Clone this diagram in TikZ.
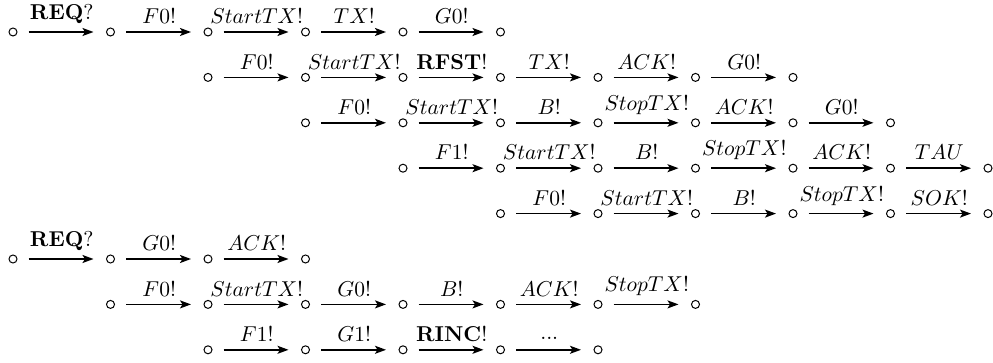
\documentclass[tikz,border=0pt]{standalone}
\usepackage{graphicx}
\usetikzlibrary{arrows.meta}

\tikzset{
  state/.style={circle, draw, line width=1pt, minimum size=8pt, inner sep=0pt},
  trans/.style={-{Stealth[length=11pt,width=8pt,inset=2.5pt]}, line width=1.5pt,
                shorten <=11pt, shorten >=12.5pt},
  act/.style={midway, anchor=south, inner sep=0pt, yshift=7.5pt},
}

% action label set in math italic, enlarged
\newcommand\lbl[1]{\scalebox{2.15}{$#1$}}

% one trace: #1 = row, #2 = first column, #3 = list of actions
\newcommand\chainrow[3]{%
  \node[state] (r#1c#2) at ({13+97.5*#2},{32+45.4*#1}) {};
  \foreach \lab [count=\i] in {#3} {
    \pgfmathtruncatemacro\prv{#2+\i-1}
    \pgfmathtruncatemacro\cur{#2+\i}
    \node[state] (r#1c\cur) at ({13+97.5*\cur},{32+45.4*#1}) {};
    \draw[trans] (r#1c\prv) -- (r#1c\cur) node[act] {\lbl{\lab}};
  }
}

\begin{document}
\begin{tikzpicture}[x=1pt,y=-1pt]
  \useasboundingbox (0,0) rectangle (993,363);

  \chainrow{0}{0}{\mathbf{REQ}?, F0!, StartTX!, TX!, G0!}
  \chainrow{1}{2}{F0!, StartTX!, \mathbf{RFST}!, TX!, ACK!, G0!}
  \chainrow{2}{3}{F0!, StartTX!, B!, StopTX!, ACK!, G0!}
  \chainrow{3}{4}{F1!, StartTX!, B!, StopTX!, ACK!, TAU}
  \chainrow{4}{5}{F0!, StartTX!, B!, StopTX!, SOK!}

  \chainrow{5}{0}{\mathbf{REQ}?, G0!, ACK!}
  \chainrow{6}{1}{F0!, StartTX!, G0!, B!, ACK!, StopTX!}
  \chainrow{7}{2}{F1!, G1!, \mathbf{RINC}!, \raisebox{1pt}{...}}
\end{tikzpicture}
\end{document}
